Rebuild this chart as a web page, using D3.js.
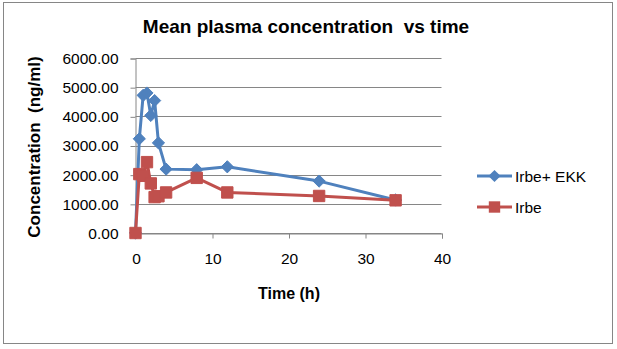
<!DOCTYPE html>
<html>
<head>
<meta charset="utf-8">
<script src="https://cdn.jsdelivr.net/npm/d3@7"></script>
<style>
  body { margin: 0; background: #fff; }
  svg { display: block; font-family: "Liberation Sans", Arial, sans-serif; }
</style>
</head>
<body>
<svg id="chart"></svg>
<script>
const width = 617
const height = 349

// sampling times (h) and mean concentrations (ng/ml)
const timesEkk = [0, 0.5, 1, 1.5, 2, 2.5, 3, 4, 8, 12, 24, 34]
const concEkk = [0, 3230, 4720, 4800, 4030, 4540, 3090, 2190, 2170, 2270, 1780, 1130]
const timesIrbe = [0, 0.5, 1, 1.5, 2, 2.5, 3, 4, 8, 12, 24, 34]
const concIrbe = [0, 2020, 1960, 2430, 1700, 1230, 1260, 1390, 1890, 1390, 1270, 1120]
const seriesNames = ['Irbe+ EKK', 'Irbe']
const yTicks = [0, 1000, 2000, 3000, 4000, 5000, 6000]
const xTicks = [0, 10, 20, 30, 40]

const plot = {left: 135.5, right: 441.5, top: 58, bottom: 233}

const x = d3.scaleLinear().domain([0, 40]).range([plot.left, plot.right])
const y = d3.scaleLinear().domain([0, 6000]).range([plot.bottom, plot.top])

const svg = d3.select('#chart').attr('width', width).attr('height', height)

// outer frame
svg.append('rect').attr('x', 3.5).attr('y', 2.5).attr('width', 609).attr('height', 341)
  .attr('fill', '#fff').attr('stroke', '#868686').attr('stroke-width', 1)

// horizontal gridlines
svg.append('g').selectAll('line').data(yTicks).enter().append('line')
  .attr('x1', plot.left).attr('x2', plot.right)
  .attr('y1', d => Math.round(y(d)) + 0.5).attr('y2', d => Math.round(y(d)) + 0.5)
  .attr('stroke', '#868686').attr('stroke-width', 1)

// axes
const yAxis = d3.axisLeft(y).tickValues(yTicks).tickFormat(d3.format('.2f')).tickSize(5).tickPadding(12)
const xAxis = d3.axisBottom(x).tickValues(xTicks).tickFormat(d3.format('d')).tickSize(5).tickPadding(14)

const gy = svg.append('g').attr('transform', `translate(${plot.left},0.5)`).call(yAxis)
const gx = svg.append('g').attr('transform', `translate(0.5,${Math.round(plot.bottom) + 0.5})`).call(xAxis)
;[gx, gy].forEach(g => {
  g.select('.domain').attr('stroke', '#868686')
  g.selectAll('.tick line').attr('stroke', '#868686')
  g.selectAll('.tick text').attr('fill', '#000').style('font-size', '15.5px')
    .style('font-family', '"Liberation Sans", Arial, sans-serif')
})

// series
const seriesData = [
  {name: seriesNames[0], color: '#4F81BD', pts: timesEkk.map((t, i) => [t, concEkk[i]]), shape: 'diamond'},
  {name: seriesNames[1], color: '#C0504D', pts: timesIrbe.map((t, i) => [t, concIrbe[i]]), shape: 'square'}
]
const line = d3.line().x(d => x(d[0])).y(d => y(d[1]))
const diamond = d3.symbol().type(d3.symbolDiamond2).size(95)
const square = d3.symbol().type(d3.symbolSquare2).size(165)

// blue first, red drawn over it
seriesData.forEach(s => {
  const g = svg.append('g')
  g.append('path').datum(s.pts).attr('d', line)
    .attr('fill', 'none').attr('stroke', s.color).attr('stroke-width', 3).attr('stroke-linejoin', 'round')
  g.selectAll('path.m').data(s.pts).enter().append('path').attr('class', 'm')
    .attr('transform', d => `translate(${x(d[0])},${y(d[1])})`)
    .attr('d', s.shape === 'diamond' ? diamond : square)
    .attr('fill', s.color).attr('stroke', s.color).attr('stroke-width', 1)
})

// title and axis titles
svg.append('text').attr('x', 306).attr('y', 33).attr('text-anchor', 'middle')
  .style('font-size', '19px').style('font-weight', 'bold').style('white-space', 'pre')
  .text('Mean plasma concentration  vs time')
svg.append('text').attr('x', 289).attr('y', 299).attr('text-anchor', 'middle')
  .style('font-size', '16px').style('font-weight', 'bold').text('Time (h)')
svg.append('text').attr('transform', 'translate(40,147) rotate(-90)').attr('text-anchor', 'middle')
  .style('font-size', '17px').style('font-weight', 'bold').style('white-space', 'pre')
  .text('Concentration  (ng/ml)')

// legend
const legend = svg.append('g').attr('transform', 'translate(477,176)')
seriesData.forEach((s, i) => {
  const g = legend.append('g').attr('transform', `translate(0,${i * 31})`)
  g.append('line').attr('x1', 0).attr('x2', 35).attr('stroke', s.color).attr('stroke-width', 3)
  g.append('path').attr('transform', 'translate(17.5,0)')
    .attr('d', s.shape === 'diamond' ? diamond : square).attr('fill', s.color)
  g.append('text').attr('x', 38).attr('y', 5.5).style('font-size', '15.5px').style('white-space', 'pre')
    .text(s.name)
})
</script>
</body>
</html>
